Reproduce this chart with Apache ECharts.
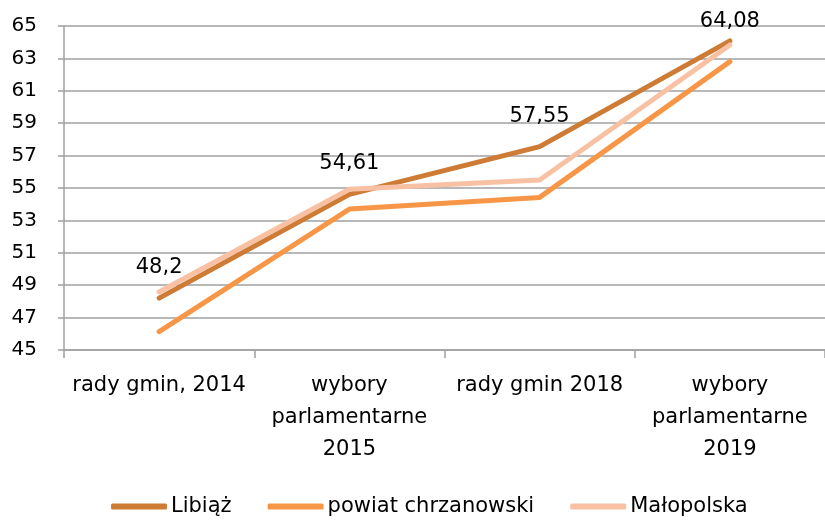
<!DOCTYPE html>
<html>
<head>
<meta charset="utf-8">
<script src="https://cdn.jsdelivr.net/npm/echarts@6/dist/echarts.min.js"></script>
<style>
  html, body { margin: 0; padding: 0; background: #fff; }
  #chart { width: 825px; height: 521px; }
</style>
</head>
<body>
<div id="chart"></div>
<script>
// kategorie (oś X)
var categories = ['rady gmin, 2014', 'wybory\nparlamentarne\n2015', 'rady gmin 2018', 'wybory\nparlamentarne\n2019'];
// wartości serii
var libiaz = [48.2, 54.61, 57.55, 64.08];
var powiat = [46.13, 53.7, 54.42, 62.8];
var malopolska = [48.58, 54.92, 55.49, 63.83];
// oś Y
var yMin = 45, yMax = 65, yStep = 2;

var font = 'DejaVu Sans';

var chart = echarts.init(document.getElementById('chart'), null, { renderer: 'canvas' });

// ostatnia etykieta jest przesunięta w dół, żeby zmieściła się w wykresie
var libiazData = libiaz.map(function (v, i) {
  if (i === libiaz.length - 1) {
    return { value: v, label: { distance: 9 } };
  }
  return v;
});

var option = {
  animation: false,
  textStyle: { fontFamily: font },
  grid: { left: 64, right: -4, top: 26, bottom: 171 },
  legend: {
    top: 491,
    left: 106,
    itemWidth: 56,
    itemHeight: 6,
    itemGap: 36,
    icon: 'roundRect',
    textStyle: { fontSize: 21, color: '#000', fontFamily: font, padding: [0, 0, 0, -1] },
    data: ['Libiąż', 'powiat chrzanowski', 'Małopolska']
  },
  xAxis: {
    type: 'category',
    data: categories,
    boundaryGap: true,
    axisLine: { lineStyle: { color: '#a0a0a0', width: 1.5 } },
    axisTick: { show: true, length: 8, lineStyle: { color: '#a0a0a0', width: 1.5 } },
    axisLabel: { color: '#000', fontSize: 21, lineHeight: 32, margin: 20, interval: 0, fontFamily: font }
  },
  yAxis: {
    type: 'value',
    min: yMin,
    max: yMax,
    interval: yStep,
    axisLine: { show: true, lineStyle: { color: '#a0a0a0', width: 1.5 } },
    axisTick: { show: true, length: 6, lineStyle: { color: '#a0a0a0', width: 1.5 } },
    axisLabel: { color: '#000', fontSize: 20, margin: 27, fontFamily: font },
    splitLine: { lineStyle: { color: '#a0a0a0', width: 1.5 } }
  },
  series: [
    {
      name: 'Libiąż',
      type: 'line',
      data: libiazData,
      symbol: 'circle',
      symbolSize: 0,
      showSymbol: true,
      lineStyle: { color: '#CD7B35', width: 5, cap: 'round' },
      itemStyle: { color: '#CD7B35' },
      label: {
        show: true,
        position: 'top',
        distance: 20,
        color: '#000',
        fontSize: 21,
        fontFamily: font,
        formatter: function (p) { return String(p.value).replace('.', ','); }
      }
    },
    {
      name: 'powiat chrzanowski',
      type: 'line',
      data: powiat,
      symbol: 'none',
      lineStyle: { color: '#F79646', width: 5, cap: 'round' },
      itemStyle: { color: '#F79646' }
    },
    {
      name: 'Małopolska',
      type: 'line',
      data: malopolska,
      symbol: 'none',
      lineStyle: { color: '#F8C1A3', width: 5, cap: 'round' },
      itemStyle: { color: '#F8C1A3' }
    }
  ]
};

chart.setOption(option);
</script>
</body>
</html>
